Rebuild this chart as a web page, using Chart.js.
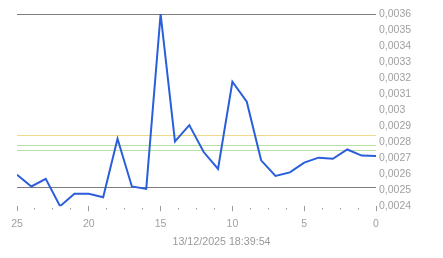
<!DOCTYPE html>
<html>
<head>
<meta charset="utf-8">
<script src="https://cdn.jsdelivr.net/npm/chart.js@4"></script>
<style>
  html, body { margin: 0; padding: 0; background: #fff; }
  canvas { display: block; }
</style>
</head>
<body>
<canvas id="priceChart" width="443" height="258"></canvas>
<script>
// Chart data (x = steps back in time, y = price)
const ages = [25, 24, 23, 22, 21, 20, 19, 18, 17, 16, 15, 14, 13, 12, 11, 10, 9, 8, 7, 6, 5, 4, 3, 2, 1, 0];
const prices = [0.002596, 0.002523, 0.002571, 0.0024, 0.002477, 0.002477, 0.002456, 0.002821, 0.002523, 0.002508,
                0.0036, 0.002804, 0.002906, 0.002738, 0.002633, 0.003177, 0.003052, 0.002686, 0.002589, 0.002611,
                0.002672, 0.002703, 0.002696, 0.002754, 0.002716, 0.002714];
const timestampLabel = '13/12/2025 18:39:54';

// Horizontal reference levels
const maxLevel = 0.0036;
const minLevel = 0.002517;
const yellowLevel = 0.002846;
const greenLevels = [0.002781, 0.002748];

// Format a number with comma decimal
function formatPrice(v) {
    return String(Number(v.toFixed(4))).replace('.', ',');
}

// Plugin drawing the reference lines under the data line
const levelLines = {
    id: 'levelLines',
    beforeDatasetsDraw(chart) {
        const { ctx, chartArea, scales } = chart;
        const lines = [
            { v: maxLevel, color: '#7d7d7d' },
            { v: minLevel, color: '#7d7d7d' },
            { v: yellowLevel, color: '#f1d98c' },
            { v: greenLevels[0], color: '#b8e0a0' },
            { v: greenLevels[1], color: '#b8e0a0' }
        ];
        ctx.save();
        ctx.lineWidth = 1;
        lines.forEach(l => {
            const y = Math.round(scales.y.getPixelForValue(l.v)) + 0.5;
            ctx.strokeStyle = l.color;
            ctx.beginPath();
            ctx.moveTo(chartArea.left, y);
            ctx.lineTo(chartArea.right, y);
            ctx.stroke();
        });
        ctx.restore();
    }
};

const tickFont = { family: 'Liberation Sans, Arial, sans-serif', size: 10.5 };

const ctx = document.getElementById('priceChart').getContext('2d');
new Chart(ctx, {
    type: 'line',
    data: {
        datasets: [{
            data: ages.map((a, i) => ({ x: a, y: prices[i] })),
            xAxisID: 'x',
            yAxisID: 'y',
            borderColor: '#2a5edb',
            borderWidth: 2,
            pointRadius: 0,
            tension: 0,
            fill: false
        }]
    },
    options: {
        responsive: false,
        animation: false,
        layout: { padding: { top: 14, left: 0, right: 0, bottom: 0 } },
        plugins: {
            legend: { display: false },
            tooltip: { enabled: false },
            // timestamp under the axis, centred on the whole canvas
            title: {
                display: true,
                position: 'bottom',
                text: timestampLabel,
                color: '#999',
                font: { family: 'Liberation Sans, Arial, sans-serif', size: 10.7, weight: 'normal' },
                padding: { top: 4, bottom: 10 }
            }
        },
        scales: {
            x: {
                type: 'linear',
                reverse: true,
                min: 0,
                max: 25,
                afterFit: scale => { scale.height = 25; },
                border: { display: false },
                grid: {
                    drawOnChartArea: false,
                    drawTicks: true,
                    tickLength: 5,
                    tickColor: '#999',
                    tickWidth: 1,
                    tickBorderDash: c => (c.tick && c.tick.value % 5 === 0) ? [] : [0, 2, 1.5, 10]
                },
                ticks: {
                    stepSize: 1.25,
                    autoSkip: false,
                    maxRotation: 0,
                    padding: 7,
                    color: '#a0a0a0',
                    font: tickFont,
                    callback: v => (v % 5 === 0) ? String(v) : ''
                }
            },
            y: {
                position: 'right',
                min: 0.0024,
                max: 0.0036,
                afterFit: scale => { scale.width = 67; },
                border: { display: false },
                grid: { display: false, drawTicks: false },
                ticks: {
                    stepSize: 0.0001,
                    padding: 3,
                    color: '#a0a0a0',
                    font: tickFont,
                    callback: v => formatPrice(v)
                }
            },
            // empty left spacer so the plot starts at x=17
            spacer: {
                type: 'linear',
                axis: 'y',
                position: 'left',
                display: true,
                afterFit: scale => { scale.width = 17; },
                border: { display: false },
                grid: { display: false },
                ticks: { display: false }
            }
        }
    },
    plugins: [levelLines]
});
</script>
</body>
</html>
